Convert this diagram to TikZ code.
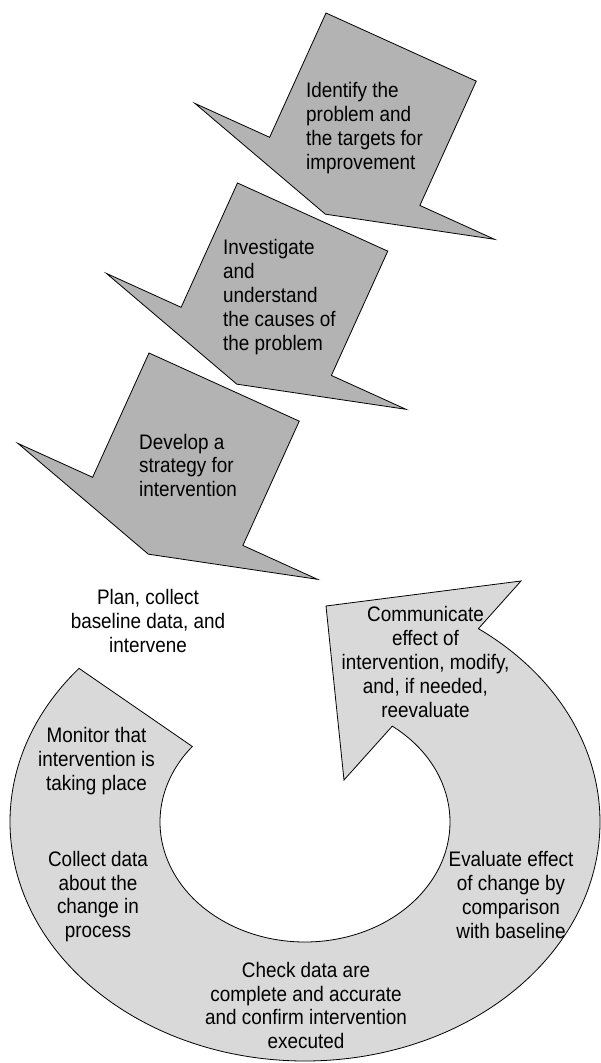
\documentclass[tikz,border=0pt]{standalone}
\usepackage{fontspec}
\setmainfont{Liberation Sans}[FakeStretch=0.9]
\usetikzlibrary{calc}

\definecolor{stepgray}{RGB}{179,179,179}
\definecolor{cyclegray}{RGB}{217,217,217}

\begin{document}
\begin{tikzpicture}[
    x=1pt, y=1pt,
    stepshape/.style={draw=black, line width=0.8pt, fill=stepgray}, % Style for the three down arrows
    cycleshape/.style={draw=black, line width=0.8pt, fill=cyclegray}, % Style for the round arrow
    steptext/.style={font=\fontsize{21}{23.8}\selectfont, align=left, anchor=west, inner sep=0pt}, % Text in the down arrows
    cycletext/.style={font=\fontsize{21}{23.8}\selectfont, align=center, inner sep=0pt} % Text round the cycle
]

    % Page size
    \useasboundingbox (0,0) rectangle (600,1063);

    % Down arrow in its own frame (top left corner at origin)
    \def\shaftw{165}
    \def\shaftl{136.5}
    \def\headw{82}
    \def\headl{47}

    % Three down arrows, each one shifted down and left
    \foreach \tx/\ty in {326/1050, 237.5/880, 149/710} {
        \draw[stepshape, shift={(\tx,\ty)}, rotate=-24.4]
            (0,0) -- (\shaftw,0) -- (\shaftw,-\shaftl) -- (\shaftw+\headw,-\shaftl)
            -- (\shaftw/2,-\shaftl-\headl) -- (-\headw,-\shaftl) -- (0,-\shaftl) -- cycle;
    }

    % Round arrow: outer ellipse, head, inner ellipse back to the tail
    \coordinate (ctr) at (305,241);
    \coordinate (tailout) at ($(ctr)+(140:295pt and 239pt)$);
    \coordinate (headin) at ($(ctr)+(53:145pt and 120pt)$);
    \coordinate (barbtop) at (521,482);
    \coordinate (headtip) at (326,457);
    \coordinate (barblow) at (344,283);
    \draw[cycleshape] (tailout)
        arc[start angle=140, end angle=414, x radius=295pt, y radius=239pt]
        -- (barbtop) -- (headtip) -- (barblow) -- (headin)
        arc[start angle=413, end angle=141, x radius=145pt, y radius=120pt] -- cycle;

    % Labels in the down arrows
    \node[steptext] (identify) at (306,935) {Identify the\\problem and\\the targets for\\improvement};
    \node[steptext] (investigate) at (223,766) {Investigate\\and\\understand\\the causes of\\the problem};
    \node[steptext] (develop) at (139,597.5) {Develop a\\strategy for\\intervention};

    % Labels round the cycle
    \node[cycletext] (plan) at (148,442) {Plan, collect\\baseline data, and\\intervene};
    \node[cycletext] (monitor) at (96.5,302) {Monitor that\\intervention is\\taking place};
    \node[cycletext] (collect) at (98,166.5) {Collect data\\about the\\change in\\process};
    \node[cycletext] (check) at (306,57.5) {Check data are\\complete and accurate\\and confirm intervention\\executed};
    \node[cycletext] (evaluate) at (511,168) {Evaluate effect\\of change by\\comparison\\with baseline};
    \node[cycletext] (communicate) at (425.5,401) {Communicate\\effect of\\intervention, modify,\\and, if needed,\\reevaluate};

\end{tikzpicture}
\end{document}
